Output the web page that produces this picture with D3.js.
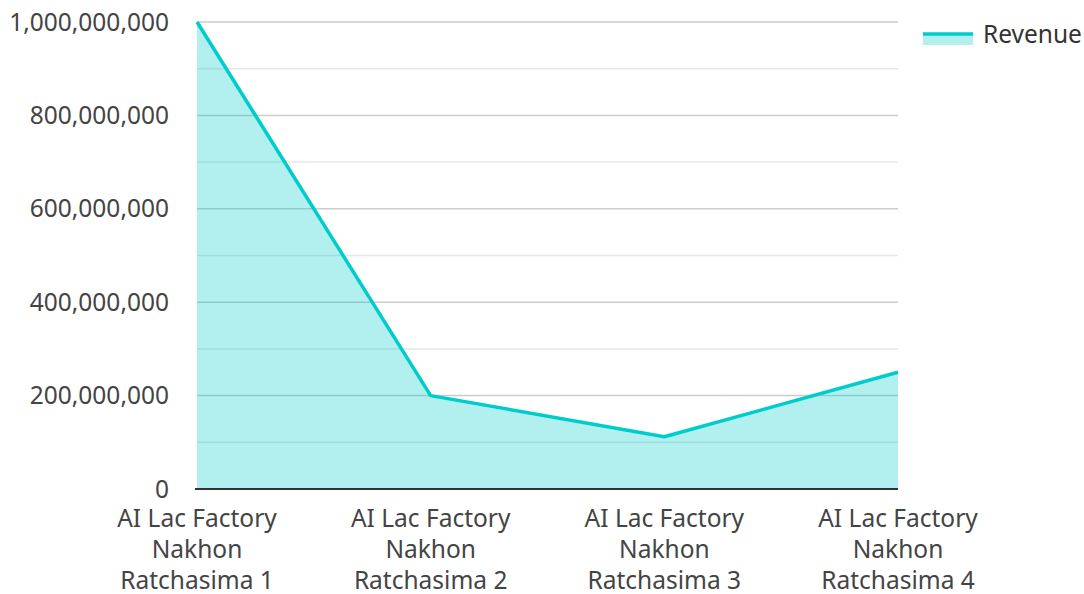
<!DOCTYPE html>
<html>
<head>
<meta charset="utf-8">
<script src="https://cdn.jsdelivr.net/npm/d3@7"></script>
<style>
  body { margin: 0; background: #fff; }
  svg { display: block; font-family: "Noto Sans", "Open Sans", sans-serif; }
</style>
</head>
<body>
<svg width="1084" height="594"></svg>
<script>
// data
const categories = [
    "AI Lac Factory Nakhon Ratchasima 1",
    "AI Lac Factory Nakhon Ratchasima 2",
    "AI Lac Factory Nakhon Ratchasima 3",
    "AI Lac Factory Nakhon Ratchasima 4"
];
const labelLines = [
    ["AI Lac Factory", "Nakhon", "Ratchasima 1"],
    ["AI Lac Factory", "Nakhon", "Ratchasima 2"],
    ["AI Lac Factory", "Nakhon", "Ratchasima 3"],
    ["AI Lac Factory", "Nakhon", "Ratchasima 4"]
];
const revenue = [1000000000, 200000000, 112000000, 250000000];
const majorTicks = [0, 200000000, 400000000, 600000000, 800000000, 1000000000];
const minorTicks = [100000000, 300000000, 500000000, 700000000, 900000000];
const seriesName = "Revenue";

const svg = d3.select("svg");
const plotLeft = 197, plotRight = 898, plotTop = 22, plotBottom = 489;
const fontSize = "24.5px";

const x = d3.scalePoint()
    .domain(categories)
    .range([plotLeft, plotRight])
    .padding(0);

const y = d3.scaleLinear()
    .domain([0, 1000000000])
    .range([plotBottom, plotTop]);

const fmt = d3.format(",");

// grid lines
svg.append("g")
    .selectAll("line")
    .data(minorTicks)
    .enter()
    .append("line")
    .attr("x1", plotLeft).attr("x2", plotRight)
    .attr("y1", d => y(d)).attr("y2", d => y(d))
    .attr("stroke", "#e6e6e6")
    .attr("stroke-width", 1.5);

svg.append("g")
    .selectAll("line")
    .data(majorTicks.filter(d => d > 0))
    .enter()
    .append("line")
    .attr("x1", plotLeft).attr("x2", plotRight)
    .attr("y1", d => y(d)).attr("y2", d => y(d))
    .attr("stroke", "#cccccc")
    .attr("stroke-width", 1.5);

// area + line
const area = d3.area()
    .x((d, i) => x(categories[i]))
    .y0(y(0))
    .y1(d => y(d));

const line = d3.line()
    .x((d, i) => x(categories[i]))
    .y(d => y(d));

svg.append("path")
    .datum(revenue)
    .attr("d", area)
    .attr("fill", "rgba(0, 204, 204, 0.3)");

svg.append("path")
    .datum(revenue)
    .attr("d", line)
    .attr("fill", "none")
    .attr("stroke", "#00cccc")
    .attr("stroke-width", 3.5)
    .attr("stroke-linejoin", "round");

// baseline
svg.append("line")
    .attr("x1", plotLeft - 2).attr("x2", plotRight)
    .attr("y1", y(0)).attr("y2", y(0))
    .attr("stroke", "#333")
    .attr("stroke-width", 2);

// y tick labels
svg.append("g")
    .selectAll("text")
    .data(majorTicks)
    .enter()
    .append("text")
    .attr("x", 169)
    .attr("y", d => y(d))
    .attr("dy", "0.35em")
    .attr("text-anchor", "end")
    .attr("fill", "#444")
    .style("font-size", fontSize)
    .text(d => fmt(d));

// x labels, three lines each
const xl = svg.append("g")
    .selectAll("text")
    .data(categories)
    .enter()
    .append("text")
    .attr("text-anchor", "middle")
    .attr("fill", "#444")
    .style("font-size", fontSize);

xl.each(function(d, i) {
    const t = d3.select(this);
    labelLines[i].forEach((s, j) => {
        t.append("tspan")
            .attr("x", x(d))
            .attr("y", 527 + j * 31)
            .text(s);
    });
});

// legend
svg.append("rect")
    .attr("x", 923).attr("y", 35)
    .attr("width", 50).attr("height", 10)
    .attr("fill", "rgba(0, 204, 204, 0.3)");
svg.append("line")
    .attr("x1", 923).attr("x2", 973)
    .attr("y1", 34).attr("y2", 34)
    .attr("stroke", "#00cccc")
    .attr("stroke-width", 3.5);
svg.append("text")
    .attr("x", 983)
    .attr("y", 34)
    .attr("dy", "0.35em")
    .attr("fill", "#333")
    .style("font-size", fontSize)
    .text(seriesName);
</script>
</body>
</html>
